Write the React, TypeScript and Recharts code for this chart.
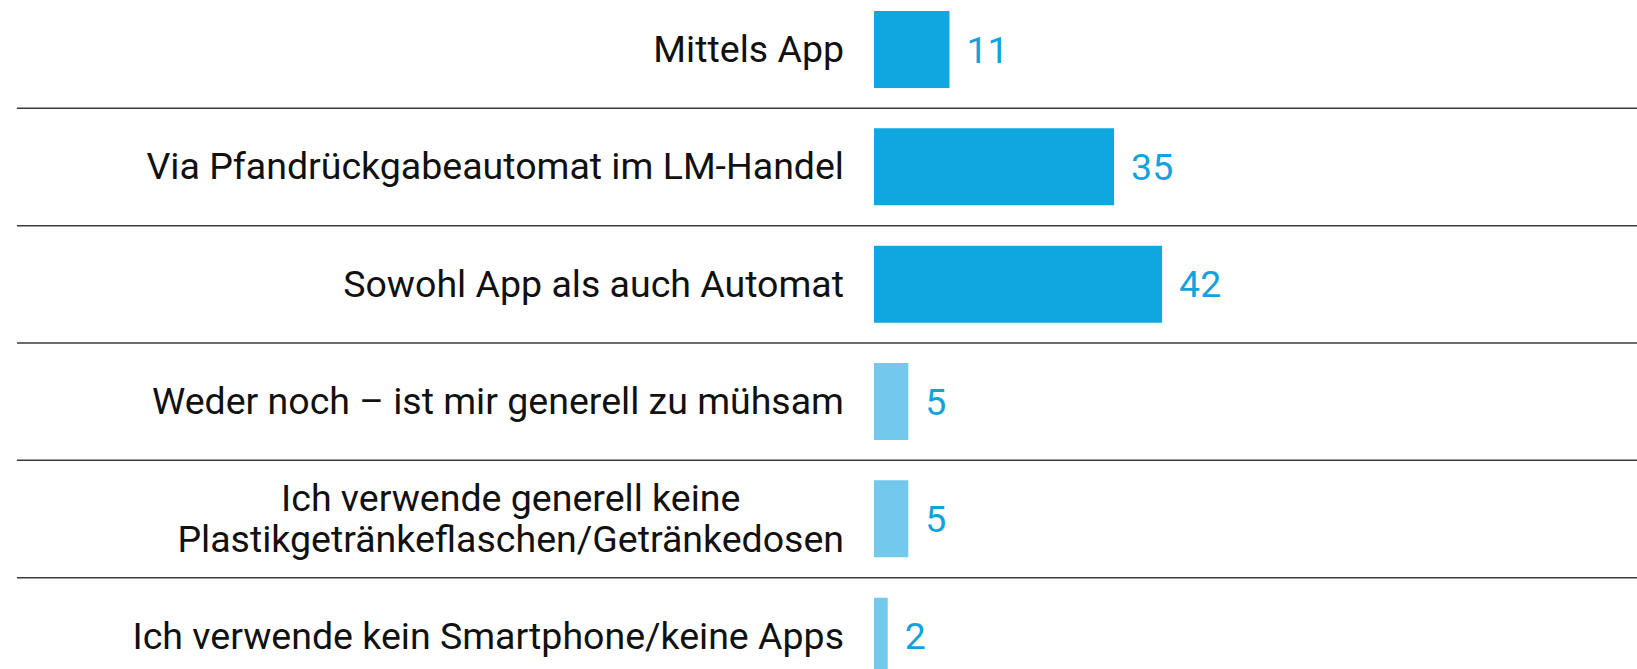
import { BarChart, Bar, XAxis, YAxis, Cell, LabelList } from 'recharts'

const categories = [
  'Mittels App',
  'Via Pfandrückgabeautomat im LM-Handel',
  'Sowohl App als auch Automat',
  'Weder noch – ist mir generell zu mühsam',
  'Ich verwende generell keine\nPlastikgetränkeflaschen/Getränkedosen',
  'Ich verwende kein Smartphone/keine Apps',
]
const values = [11, 35, 42, 5, 5, 2]
const barColors = ['#10a6df', '#10a6df', '#10a6df', '#72c9ed', '#72c9ed', '#72c9ed']

const FONT = 'Roboto, sans-serif'
const FONT_SIZE = 37.5
const CHART_W = 1637
const CHART_H = 704
const BAND = CHART_H / categories.length

const data = categories.map((name, i) => ({ name, value: values[i] }))

let ctx: CanvasRenderingContext2D | null = null
function textWidth(s: string) {
  if (!ctx) ctx = document.createElement('canvas').getContext('2d')
  if (!ctx) return s.length * FONT_SIZE * 0.5
  ctx.font = `${FONT_SIZE}px Roboto`
  return ctx.measureText(s).width
}

function CategoryTick({ x, y, payload, index }: any) {
  const lines: string[] = String(payload.value).split('\n')
  const widest = Math.max(...lines.map(textWidth))
  const cx = lines.length > 1 ? x - widest / 2 : x
  const lineH = 41
  const startY = y - ((lines.length - 1) * lineH) / 2
  return (
    <g>
      <text
        x={cx}
        y={startY}
        textAnchor={lines.length > 1 ? 'middle' : 'end'}
        fill="#111"
        fontSize={FONT_SIZE}
        fontFamily={FONT}
      >
        {lines.map((l, i) => (
          <tspan key={i} x={cx} y={startY + i * lineH} dy="0.33em">{l}</tspan>
        ))}
      </text>
      {index < categories.length - 1 && (
        <line x1={17} x2={CHART_W} y1={y + BAND / 2} y2={y + BAND / 2} stroke="#3c3c3c" strokeWidth={1.5} />
      )}
    </g>
  )
}

export default function App() {
  return (
    <div style={{ position: 'absolute', left: 0, top: 0, width: CHART_W, height: 669, overflow: 'hidden', background: '#fff' }}>
      <div style={{ position: 'absolute', left: 0, top: -9 }}>
        <BarChart
          width={CHART_W}
          height={CHART_H}
          data={data}
          layout="vertical"
          margin={{ top: 0, right: 77, bottom: 0, left: 0 }}
        >
          <XAxis type="number" domain={[0, 100]} hide />
          <YAxis
            type="category"
            dataKey="name"
            width={874}
            axisLine={false}
            tickLine={false}
            tickSize={0}
            tickMargin={30}
            interval={0}
            tick={<CategoryTick />}
          />
          <Bar dataKey="value" barSize={77} isAnimationActive={false}>
            {data.map((_d, i) => (
              <Cell key={`cell-${i}`} fill={barColors[i]} />
            ))}
            <LabelList dataKey="value" position="right" offset={17} fill="#13a3dc" fontSize={FONT_SIZE} fontFamily={FONT} />
          </Bar>
        </BarChart>
      </div>
    </div>
  )
}
